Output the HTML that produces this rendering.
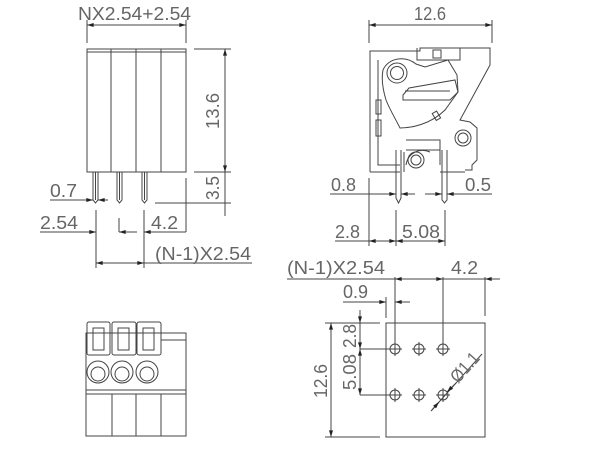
<!DOCTYPE html>
<html><head><meta charset="utf-8"><style>
html,body{margin:0;padding:0;background:#fff;width:600px;height:450px;overflow:hidden}
svg{display:block}
text{font-family:"Liberation Sans",sans-serif;font-size:18px;fill:#666;font-weight:normal}
</style></head><body>
<svg width="600" height="450" viewBox="0 0 600 450" xmlns="http://www.w3.org/2000/svg">
<defs>
<marker id="a" viewBox="0 0 10 6" refX="10" refY="3" markerWidth="8" markerHeight="4" orient="auto-start-reverse" markerUnits="userSpaceOnUse"><path d="M0,0L10,3L0,6z" fill="#222"/></marker>
</defs>
<g stroke="#444" stroke-width="1" fill="none">
<rect x="87" y="49" width="99" height="123"/>
<line x1="87" y1="52" x2="186" y2="52"/>
<line x1="111" y1="49" x2="111" y2="172"/>
<line x1="136" y1="49" x2="136" y2="172"/>
<line x1="161" y1="49" x2="161" y2="172"/>
<g>
<path d="M93,172V200L95.5,203L98,200V172"/><line x1="95.5" y1="172" x2="95.5" y2="200"/>
<path d="M117,172V200L119.5,203L122,200V172"/><line x1="119.5" y1="172" x2="119.5" y2="200"/>
<path d="M142,172V200L144.5,203L147,200V172"/><line x1="144.5" y1="172" x2="144.5" y2="200"/>
</g>
<line x1="87" y1="20" x2="87" y2="43"/><line x1="186" y1="20" x2="186" y2="43"/>
<line x1="87" y1="25" x2="186" y2="25" marker-start="url(#a)" marker-end="url(#a)"/>
<line x1="194" y1="49" x2="231" y2="49"/><line x1="194" y1="172" x2="231" y2="172"/><line x1="155" y1="203" x2="231" y2="203"/>
<line x1="225" y1="49" x2="225" y2="172" marker-start="url(#a)" marker-end="url(#a)"/>
<line x1="225" y1="172" x2="225" y2="216"/>
<line x1="50" y1="200" x2="93" y2="200" marker-end="url(#a)"/>
<line x1="108" y1="200" x2="98" y2="200" marker-end="url(#a)"/>
<line x1="40" y1="232" x2="96" y2="232" marker-end="url(#a)"/>
<line x1="96" y1="210" x2="96" y2="268"/>
<line x1="119" y1="218" x2="119" y2="232"/><line x1="137" y1="232" x2="119" y2="232" marker-end="url(#a)"/>
<line x1="144" y1="210" x2="144" y2="268"/>
<line x1="186" y1="178" x2="186" y2="232"/>
<line x1="144" y1="232" x2="186" y2="232" marker-start="url(#a)"/>
<line x1="96" y1="263" x2="144" y2="263" marker-start="url(#a)" marker-end="url(#a)"/>
<line x1="144" y1="263" x2="252" y2="263"/>

<path d="M370,172V51H420V48H490V65L460,120L470,122L477,128V160L472,165V170H465"/>
<path d="M370,172H400M440,172H465"/>
<path d="M417,48V60H460V48"/><rect x="433" y="50" width="8" height="8"/>
<path d="M378,60V165H400"/><path d="M406,150H440V165"/>
<rect x="376" y="100" width="5" height="14"/><rect x="376" y="120" width="5" height="16"/>
<path d="M383,70C388,58 405,55 416,64L425,67 L448,60 L457,75 L458,92 L445,110 C430,125 410,128 400,128 C395,118 390,110 386,100 C383,90 381,80 383,70Z"/>
<circle cx="397" cy="73" r="10"/><circle cx="397" cy="73" r="6.5"/>
<path d="M403,95L409,88L455,80L458,92L450,100H403Z"/><path d="M405,91H450"/>
<rect x="434" y="112" width="5" height="8" transform="rotate(-30 436 116)"/>
<circle cx="463" cy="138" r="8"/><circle cx="463" cy="138" r="5"/>
<path d="M404,172V152 M406,140H440V150"/>
<path d="M406,165C408,152 420,148 430,152"/><circle cx="416" cy="160" r="8"/><circle cx="416" cy="160" r="5"/>
<path d="M396,150V198L398.5,203L401,198V150"/>
<path d="M442,150V200L444.5,203L447,200V150"/>
<line x1="369" y1="20" x2="369" y2="43"/><line x1="492" y1="20" x2="492" y2="43"/>
<line x1="369" y1="25" x2="492" y2="25" marker-start="url(#a)" marker-end="url(#a)"/>
<line x1="330" y1="194" x2="396" y2="194" marker-end="url(#a)"/>
<line x1="415" y1="194" x2="401" y2="194" marker-end="url(#a)"/>
<line x1="425" y1="194" x2="442" y2="194" marker-end="url(#a)"/>
<line x1="492" y1="194" x2="447" y2="194" marker-end="url(#a)"/>
<line x1="369" y1="178" x2="369" y2="246"/>
<line x1="396" y1="210" x2="396" y2="246"/><line x1="445" y1="210" x2="445" y2="246"/>
<line x1="335" y1="241" x2="445" y2="241"/>
<line x1="369" y1="241" x2="396" y2="241" marker-start="url(#a)" marker-end="url(#a)"/>
<line x1="396" y1="241" x2="445" y2="241" marker-start="url(#a)" marker-end="url(#a)"/>

<rect x="86" y="333" width="100" height="103"/>
<line x1="161" y1="340" x2="186" y2="340"/>
<rect x="87" y="322" width="23" height="33" rx="2"/><rect x="93" y="328" width="11" height="22"/>
<rect x="112" y="322" width="24" height="33" rx="2"/><rect x="118" y="328" width="11" height="22"/>
<rect x="137" y="322" width="24" height="33" rx="2"/><rect x="143" y="328" width="11" height="22"/>
<circle cx="98" cy="372" r="11"/><circle cx="98" cy="374" r="7"/>
<circle cx="122" cy="372" r="11"/><circle cx="122" cy="374" r="7"/>
<circle cx="147" cy="372" r="11"/><circle cx="147" cy="374" r="7"/>
<line x1="86" y1="390" x2="186" y2="390"/><line x1="86" y1="394" x2="186" y2="394"/>
<line x1="112" y1="394" x2="112" y2="436"/><line x1="136" y1="394" x2="136" y2="436"/><line x1="161" y1="394" x2="161" y2="436"/>

<rect x="386" y="323" width="99" height="114"/>
<g>
<circle cx="395" cy="349" r="5"/><circle cx="419" cy="349" r="5"/><circle cx="443" cy="349" r="5"/>
<circle cx="395" cy="395" r="5"/><circle cx="419" cy="395" r="5"/><circle cx="443" cy="395" r="5"/>
<path d="M395,342V356M388,349H402M419,342V356M412,349H426M443,342V356M436,349H450M395,388V402M388,395H402M419,388V402M412,395H426M443,388V402M436,395H450"/>
</g>
<line x1="287" y1="279" x2="500" y2="279"/>
<line x1="395" y1="277" x2="395" y2="349"/><line x1="443" y1="277" x2="443" y2="349"/>
<line x1="485" y1="277" x2="485" y2="316"/>
<line x1="410" y1="279" x2="395" y2="279" marker-end="url(#a)"/>
<line x1="428" y1="279" x2="443" y2="279" marker-end="url(#a)"/>
<line x1="500" y1="279" x2="485" y2="279" marker-end="url(#a)"/>
<line x1="343" y1="302" x2="386" y2="302" marker-end="url(#a)"/>
<line x1="410" y1="302" x2="395" y2="302" marker-end="url(#a)"/>
<line x1="386" y1="297" x2="386" y2="318"/>
<line x1="325" y1="323" x2="380" y2="323"/><line x1="325" y1="437" x2="380" y2="437"/>
<line x1="331" y1="323" x2="331" y2="437" marker-start="url(#a)" marker-end="url(#a)"/>
<line x1="360" y1="349" x2="395" y2="349"/><line x1="360" y1="395" x2="395" y2="395"/>
<line x1="360" y1="310" x2="360" y2="323" marker-end="url(#a)"/>
<line x1="360" y1="323" x2="360" y2="349" marker-end="url(#a)"/>
<line x1="360" y1="349" x2="360" y2="395" marker-start="url(#a)" marker-end="url(#a)"/>
<line x1="431" y1="411" x2="482" y2="354"/>
<line x1="432" y1="410" x2="439" y2="402" marker-end="url(#a)"/>
<line x1="456" y1="383" x2="447" y2="392" marker-end="url(#a)"/>
</g>
<g>
<text x="78" y="20" textLength="113" lengthAdjust="spacingAndGlyphs">NX2.54+2.54</text>
<text x="219" y="129" transform="rotate(-90 219 129)" textLength="36" lengthAdjust="spacingAndGlyphs">13.6</text>
<text x="219" y="200" transform="rotate(-90 219 200)" textLength="24" lengthAdjust="spacingAndGlyphs">3.5</text>
<text x="50" y="197" textLength="27" lengthAdjust="spacingAndGlyphs">0.7</text>
<text x="40" y="229" textLength="38" lengthAdjust="spacingAndGlyphs">2.54</text>
<text x="151" y="229" textLength="27" lengthAdjust="spacingAndGlyphs">4.2</text>
<text x="155" y="260" textLength="96" lengthAdjust="spacingAndGlyphs">(N-1)X2.54</text>
<text x="414" y="20" textLength="32" lengthAdjust="spacingAndGlyphs">12.6</text>
<text x="331" y="191" textLength="25" lengthAdjust="spacingAndGlyphs">0.8</text>
<text x="465" y="191" textLength="26" lengthAdjust="spacingAndGlyphs">0.5</text>
<text x="335" y="238" textLength="25" lengthAdjust="spacingAndGlyphs">2.8</text>
<text x="402" y="238" textLength="38" lengthAdjust="spacingAndGlyphs">5.08</text>
<text x="287" y="274" textLength="98" lengthAdjust="spacingAndGlyphs">(N-1)X2.54</text>
<text x="451" y="274" textLength="27" lengthAdjust="spacingAndGlyphs">4.2</text>
<text x="343" y="298" textLength="25" lengthAdjust="spacingAndGlyphs">0.9</text>
<text x="327" y="398" transform="rotate(-90 327 398)" textLength="34" lengthAdjust="spacingAndGlyphs">12.6</text>
<text x="356" y="348" transform="rotate(-90 356 348)" textLength="24" lengthAdjust="spacingAndGlyphs">2.8</text>
<text x="356" y="390" transform="rotate(-90 356 390)" textLength="36" lengthAdjust="spacingAndGlyphs">5.08</text>
<text x="458" y="384" transform="rotate(-48 458 384)" textLength="34" lengthAdjust="spacingAndGlyphs">Ø1.1</text>
</g>
</svg>
</body></html>
